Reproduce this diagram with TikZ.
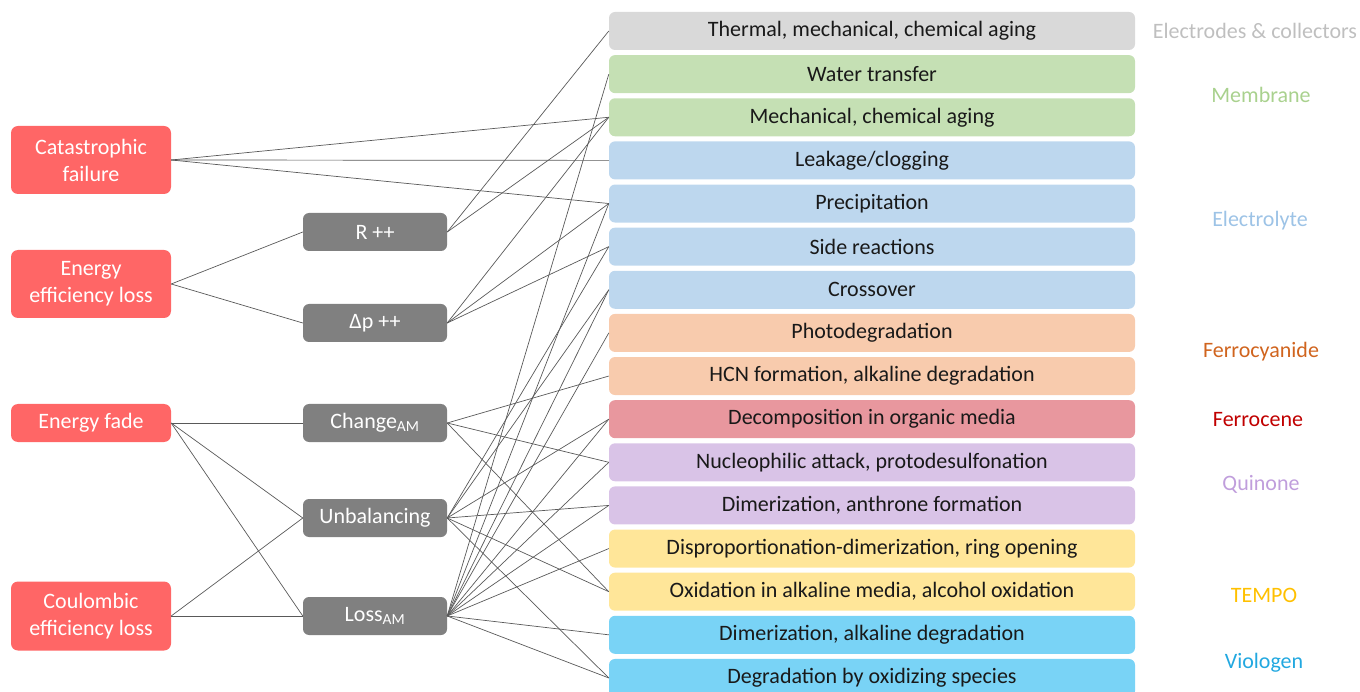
\documentclass[tikz,border=0pt]{standalone}
\usepackage{fontspec}
\setmainfont{Carlito}
\definecolor{failred}{HTML}{FF6666}
\definecolor{midgray}{HTML}{808080}
\definecolor{linkgray}{HTML}{595959}
\definecolor{cgrey}{HTML}{D9D9D9}
\definecolor{cgreen}{HTML}{C5E0B4}
\definecolor{cblue}{HTML}{BDD7EE}
\definecolor{corange}{HTML}{F8CBAD}
\definecolor{cred}{HTML}{E8979E}
\definecolor{cpurple}{HTML}{D9C3E7}
\definecolor{cyellow}{HTML}{FFE699}
\definecolor{ccyan}{HTML}{79D3F6}
\definecolor{tgrey}{HTML}{BFBFBF}
\definecolor{tgreen}{HTML}{A9D18E}
\definecolor{tblue}{HTML}{9DC3E6}
\definecolor{torange}{HTML}{D0641E}
\definecolor{tred}{HTML}{C00000}
\definecolor{tpurple}{HTML}{C09EDC}
\definecolor{tyellow}{HTML}{FFC000}
\definecolor{tcyan}{HTML}{22A8E0}
\newcommand{\bodyfont}{\fontsize{22}{27}\selectfont}
\begin{document}
\begin{tikzpicture}[x=1pt,y=-1pt,
  failbox/.style={fill=failred, rounded corners=7pt, text=white, minimum width=160pt, inner sep=0pt, align=center, font=\bodyfont},
  midbox/.style={fill=midgray, rounded corners=6pt, text=white, minimum width=144pt, minimum height=38pt, inner sep=0pt, font=\bodyfont},
  mechbox/.style={rounded corners=6pt, text=black!90, minimum width=526pt, minimum height=38pt, inner sep=0pt, font=\bodyfont},
  famlabel/.style={font=\bodyfont, inner sep=0pt},
  link/.style={draw=linkgray, line width=0.7pt}]
\useasboundingbox (0,0) rectangle (1360,692);
\clip (0,0) rectangle (1360,692);

% left boxes
\node[failbox, minimum height=68pt] (l1) at (91,160) {Catastrophic\\failure};
\node[failbox, minimum height=68pt] (l2) at (91,284) {Energy\\efficiency loss};
\node[failbox, minimum height=38pt] (l3) at (91,423) {Energy fade};
\node[failbox, minimum height=69pt] (l4) at (91,616) {Coulombic\\efficiency loss};

% middle boxes
\node[midbox] (mR) at (375,232) {R ++};
\node[midbox] (mP) at (375,323) {Δp ++};
\node[midbox] (mC) at (375,423) {Change\textsubscript{AM}};
\node[midbox] (mU) at (375,518) {Unbalancing};
\node[midbox] (mL) at (375,616) {Loss\textsubscript{AM}};

% right boxes
\foreach \i/\c/\t in {
  1/cgrey/{Thermal, mechanical, chemical aging},
  2/cgreen/{Water transfer},
  3/cgreen/{Mechanical, chemical aging},
  4/cblue/{Leakage/clogging},
  5/cblue/{Precipitation},
  6/cblue/{Side reactions},
  7/cblue/{Crossover},
  8/corange/{Photodegradation},
  9/corange/{HCN formation, alkaline degradation},
  10/cred/{Decomposition in organic media},
  11/cpurple/{Nucleophilic attack, protodesulfonation},
  12/cpurple/{Dimerization, anthrone formation},
  13/cyellow/{Disproportionation-dimerization, ring opening},
  14/cyellow/{Oxidation in alkaline media, alcohol oxidation},
  15/ccyan/{Dimerization, alkaline degradation},
  16/ccyan/{Degradation by oxidizing species}}
  \node[mechbox, fill=\c] (r\i) at (872,{31+(\i-1)*43.13}) {\t};

% family labels
\node[famlabel, text=tgrey] (f1) at (1255,31) {Electrodes \& collectors};
\node[famlabel, text=tgreen] (f2) at (1261,95) {Membrane};
\node[famlabel, text=tblue] (f3) at (1260,221) {Electrolyte};
\node[famlabel, text=torange] (f4) at (1261,352) {Ferrocyanide};
\node[famlabel, text=tred] (f5) at (1258,420) {Ferrocene};
\node[famlabel, text=tpurple] (f6) at (1261,484) {Quinone};
\node[famlabel, text=tyellow] (f7) at (1264,595) {TEMPO};
\node[famlabel, text=tcyan] (f8) at (1264,663) {Viologen};

% left to middle
\foreach \a/\b in {l2/mR, l2/mP, l3/mC, l3/mU, l3/mL, l4/mU, l4/mL}
  \draw[link] (\a.east) -- (\b.west);
% left to right
\foreach \b in {r3, r4, r5}
  \draw[link] (l1.east) -- (\b.west);
% middle to right
\foreach \a/\b in {mR/r1, mR/r3,
  mP/r3, mP/r5, mP/r6,
  mC/r9, mC/r11, mC/r14,
  mU/r6, mU/r7, mU/r10, mU/r12, mU/r14, mU/r16,
  mL/r2, mL/r5, mL/r7, mL/r8, mL/r10, mL/r11, mL/r12, mL/r13, mL/r15, mL/r16}
  \draw[link] (\a.east) -- (\b.west);
\end{tikzpicture}
\end{document}
